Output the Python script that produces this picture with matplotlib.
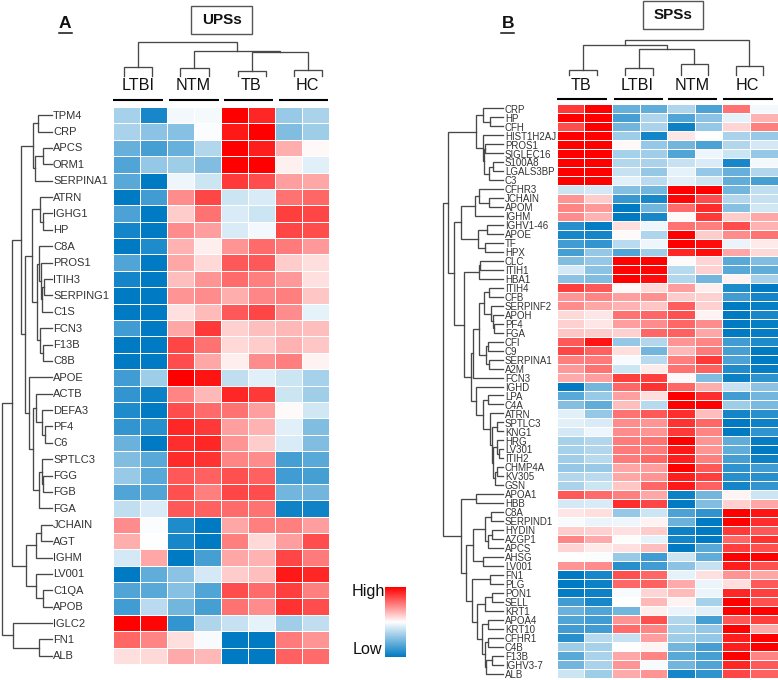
# -*- coding: utf-8 -*-
"""
two clustered heatmaps (UPSs, SPSs) with row and column dendrograms
"""

from matplotlib import pyplot as plt
from matplotlib.colors import LinearSegmentedColormap
from matplotlib.patches import Rectangle
import numpy as np

GROUPS_A = ["LTBI", "NTM", "TB", "HC"]
GROUPS_B = ["TB", "LTBI", "NTM", "HC"]

GENES_A = ["TPM4", "CRP", "APCS", "ORM1", "SERPINA1", "ATRN", "IGHG1", "HP", "C8A", "PROS1",
           "ITIH3", "SERPING1", "C1S", "FCN3", "F13B", "C8B", "APOE", "ACTB", "DEFA3", "PF4",
           "C6", "SPTLC3", "FGG", "FGB", "FGA", "JCHAIN", "AGT", "IGHM", "LV001", "C1QA",
           "APOB", "IGLC2", "FN1", "ALB"]

VALUES_A = [
    [-.35, -.9, -.05, -.04, 1, .85, -.4, -.33],
    [-.33, -.45, -.47, -.02, .9, 1, -.5, -.38],
    [-.6, -.72, -.6, -.3, 1, .88, .32, .03],
    [-.68, -.42, -.38, -.5, 1, 1, .06, -.12],
    [-.65, -1, -.07, -.2, .77, .7, .38, .35],
    [-1, -.75, .45, .72, -.2, -.15, .55, .6],
    [-.7, -1, .2, .55, -.15, -.2, .75, .72],
    [-.92, -1, .45, .38, -.15, -.05, .72, .7],
    [-1, -.88, .3, .07, .42, .58, .52, .4],
    [-.68, -1, .35, .15, .65, .65, .2, .13],
    [-.92, -1, .25, .42, .58, .5, .4, .12],
    [-1, -1, .42, .45, .32, .47, .5, .22],
    [-1, -1, .12, .27, .65, .72, .45, -.1],
    [-.75, -1, .35, .78, .18, .25, .28, .25],
    [-1, -1, .72, .55, .15, .2, .3, .22],
    [-1, -1, .7, .35, .07, .45, .5, .05],
    [-.75, -.38, 1, .92, -.25, -.12, -.2, -.35],
    [-.8, -.95, .48, .28, .85, .78, -.2, -.37],
    [-.88, -1, .7, .58, .55, .38, .02, -.18],
    [-.8, -.85, .85, .78, .38, .3, -.12, -.5],
    [-.58, -1, .82, .85, .42, .2, -.15, -.5],
    [-.5, -.65, .83, .8, .48, .45, -.72, -.65],
    [-.4, -.65, .65, .62, .68, .62, -.75, -.72],
    [-.68, -.68, .68, .5, .72, .7, -.55, -.55],
    [-.25, -.15, .65, .62, .58, .55, -.93, -.93],
    [.45, -.02, -.88, -1, .35, .5, .5, .38],
    [.32, 0, -.9, -1, .5, .15, .38, .7],
    [-.17, .35, -1, -.72, .35, .3, .72, .52],
    [-1, -.62, -.45, -.17, .2, .25, .9, .85],
    [-.68, -.65, -.47, -.68, .7, .58, .75, .5],
    [-.75, -.27, -.55, -.72, .55, .45, .8, .7],
    [1, .97, -.8, -.32, -.22, -.1, -.37, -.25],
    [.6, .48, .13, -.03, -1, -1, .52, .42],
    [.13, .15, .33, .28, -1, -1, .62, .58],
]

GENES_B = ["CRP", "HP", "CFH", "HIST1H2AJ", "PROS1", "SIGLEC16", "S100A8", "LGALS3BP", "C3",
           "CFHR3", "JCHAIN", "APOM", "IGHM", "IGHV1-46", "APOE", "TF", "HPX", "CLC", "ITIH1",
           "HBA1", "ITIH4", "CFB", "SERPINF2", "APOH", "PF4", "FGA", "CFI", "C9", "SERPINA1",
           "A2M", "FCN3", "IGHD", "LPA", "C4A", "ATRN", "SPTLC3", "KNG1", "HRG", "LV301",
           "ITIH2", "CHMP4A", "KV305", "GSN", "APOA1", "HBB", "C8A", "SERPIND1", "HYDIN",
           "AZGP1", "APCS", "AHSG", "LV001", "FN1", "PLG", "PON1", "SELL", "KRT1", "APOA4",
           "KRT10", "CFHR1", "C4B", "F13B", "IGHV3-7", "ALB"]

VALUES_B = [
    [.78, 1, -.6, -.62, -.32, -.7, .55, -.05],
    [1, 1, -.72, -.32, -.68, -.45, -.1, .3],
    [.7, 1, -.55, -.33, -.95, -.42, .17, .5],
    [1, 1, -.38, -.92, .1, 0, -.33, -.4],
    [1, 1, .03, -.42, -.55, -.7, -.3, -.17],
    [1, 1, -.35, -.37, -.68, -.07, -.2, -.42],
    [1, 1, -.3, -.33, -.22, -.15, -.9, -.05],
    [1, 1, -.22, -.42, -.1, -.42, -.6, -.3],
    [1, 1, -.12, -.27, -.12, -.2, -.62, -.72],
    [-.2, -.17, -.48, -.55, 1, 1, -.55, -.25],
    [.42, .2, -.78, -.9, .97, .7, -.3, -.22],
    [.48, .4, -1, -.55, .58, .83, -.47, -.18],
    [.45, .3, -1, -.9, .03, .78, .2, .35],
    [-.85, -.98, .13, -.07, .55, .5, .7, .3],
    [-.9, -.92, .02, -.32, 1, .2, .45, .55],
    [-.75, -.8, -.27, -.07, 1, .95, -.08, .08],
    [-.72, -.42, -.68, -.38, .85, .95, .35, .15],
    [-.5, -.42, 1, 1, .02, .17, -.65, -.5],
    [-.17, -.45, .98, .97, -.28, .18, -.65, -.62],
    [-.45, -.5, 1, .95, -.3, -.55, .05, -.35],
    [.75, .65, .03, .15, .38, .07, -.88, -1],
    [.42, .48, .38, .43, .2, .18, -.75, -.92],
    [.45, .35, .3, .22, .63, .18, -1, -.97],
    [.15, .1, .55, .6, .68, .05, -1, -.9],
    [.18, .1, .38, .45, .6, .45, -1, -.97],
    [.22, .2, .18, .6, .62, .35, -1, -.98],
    [.65, .92, -.42, -.3, .42, .48, -.75, -.88],
    [.72, .62, .13, -.55, .28, .52, -.72, -1],
    [.5, .52, -.03, -.28, .5, .78, -.7, -1],
    [.4, .55, -.2, .08, .55, .62, -.87, -.98],
    [.33, .38, .75, .75, .03, -.5, -.95, -.82],
    [-1, -.55, .6, .8, .6, .32, -.22, -.45],
    [-.65, -.4, .37, .13, 1, .82, -.75, -.55],
    [-.48, -.62, .25, -.28, 1, 1, -.38, -.52],
    [-.12, -.42, .55, .65, .82, .25, -.92, -.85],
    [-.12, -.15, .45, .42, .8, .6, -1, -.95],
    [-.17, -.07, .45, .42, .78, .48, -1, -.82],
    [-.35, -.3, .52, .55, 1, .42, -.62, -.98],
    [-.35, -.3, .52, .52, .9, .42, -.62, -1],
    [-.37, -.28, .52, .6, .88, .5, -.72, -.95],
    [-.42, -.4, .35, .38, 1, .65, -.82, -.75],
    [-.3, -.27, .35, .42, .88, .75, -.85, -.85],
    [-.33, -.2, .22, .6, .9, .62, -.92, -.8],
    [.65, .58, .5, .35, -.95, -.55, .04, -.2],
    [-.17, -.15, .82, .72, -1, -.5, .18, .35],
    [.1, .13, -.42, -.2, -.7, -.82, 1, .92],
    [-.03, -.08, -.07, .05, -.58, -1, 1, .82],
    [.2, .18, .12, .2, -.95, -1, .78, .65],
    [.48, .33, .01, -.1, -.92, -1, .6, .8],
    [.17, .08, .12, .25, -1, -.65, .75, .68],
    [0, -.02, -.4, -.75, -.2, -.62, 1, 1],
    [.42, .45, -.85, -.75, -.45, -.22, .88, .68],
    [-1, -.9, .68, .6, -.1, .12, .42, .35],
    [-1, -.95, .6, .62, .33, -.08, .13, .65],
    [-.98, -.95, -.03, .17, .27, -.08, .85, .75],
    [-.75, -.9, 0, .28, .05, -.35, 1, .68],
    [-.58, -.68, -.55, .07, -.08, -.12, 1, 1],
    [-.68, -.75, .42, .68, -.3, -.72, .65, .75],
    [-.75, -.75, .58, .48, -.35, -.42, 1, .33],
    [-.85, -.28, -.22, .38, -.38, -.42, .88, 1],
    [-.38, -.35, 0, .04, -.55, -.72, .88, 1],
    [-.65, -.33, .35, .48, -.65, -.72, 1, .48],
    [-.55, -.33, .42, -.03, -.55, -.68, .85, .65],
    [-.2, -.38, .33, .42, -.92, -.82, .72, .62],
]

# dendrograms as (height, child, child), a leaf is the row or column number
ROW_TREE_A = (2, (12.5, (21.3, (33, (38, 0, 1), (35.5, (43, 2, 3), 4)),
                         (25, (32, (40, 5, (43.5, 6, 7)),
                               (37.5, (39.3, 8, (40.7, 9, (42.3, (44.3, 10, 11), 12))),
                                (40, 13, (43.5, 14, 15)))),
                          (28.7, 16, (33.3, (36, 17, (41.7, 18, (45, 19, 20))),
                                      (39.3, (42.3, 21, (43, 22, 23)), 24))))),
                  (26, (36, (41.5, 25, 26), 27), (36, 28, (43.5, 29, 30)))),
              (13, 31, (39, 32, 33)))

B_TOP = (476, (482.7, 0, (490, 1, 2)),
         (483.3, 3, (484, (485, 4, 5), (489, (492.7, 6, 7), 8))))
B_MID = (460.7, (475, (479.3, 9, (489, 10, 11)), 12), (478.3, (487.3, 13, 14), (485, 15, 16)))
B_CLC = (479.3, (480, 17, 18), 19)
B_ITIH = (479.3, (484, (489, 20, 21), (490.7, 22, (493.3, 23, (494.3, 24, 25)))),
          (486, (487.7, 26, 27), (489.3, 28, 29)))
B_IGHD = (476, 31, (482.7, (488.3, 32, 33),
                    (490, 34, (491.7, (496.7, 35, 36),
                               (493.3, (497.3, 37, (499.3, 38, 39)),
                                (495, (496.7, 40, 41), 42))))))
B_LOW = (460.7, (476, 43, 44),
         (466, (473.3, (485, (490.7, 45, 46), (487.7, (491.7, 47, 48), 49)), (483.3, 50, 51)),
          (472.3, (490, 52, 53),
           (476.7, (485, (491.7, 54, 55), 56),
            (481.7, (487.7, 57, 58),
             (485, (488.3, 59, 60), (486, (491.7, 61, 62), 63)))))))
ROW_TREE_B = (443.3, (448.3, B_TOP,
                      (454, B_MID, (464, B_CLC, (470.7, (473.3, B_ITIH, 30), B_IGHD)))),
              B_LOW)

COL_TREE_A = (42, (66.7, 0, 1), (50.7, (68, 2, 3), (51.7, (71, 4, 5), (69.5, 6, 7))))
COL_TREE_B = (40, (44.7, (70, 0, 1), (49.3, (67.7, 2, 3), (64.3, 4, 5))), (65.7, 6, 7))
COL_LEAVES_A = [123.7, 152.3, 180, 208.7, 237.7, 265.7, 293.7, 322.3]
COL_LEAVES_B = [569.3, 597.3, 624.7, 652.7, 680.7, 708.3, 735.7, 763.3]

TEXT_COL = '#333333'
TREE_COL = '#484848'

plt.rcParams['font.family'] = ['Liberation Sans', 'DejaVu Sans']

heat = LinearSegmentedColormap.from_list('heat', ['#007bc3', '#ffffff', '#ff0000'])


def row_tree(ax, node, leaf_x, ys):
    """draw a left to right tree, returns position of the node"""
    if isinstance(node, int):
        return leaf_x, ys[node]
    h, a, b = node
    xa, ya = row_tree(ax, a, leaf_x, ys)
    xb, yb = row_tree(ax, b, leaf_x, ys)
    ax.plot([xa, h, h, xb], [ya, ya, yb, yb], color=TREE_COL, lw=0.95, solid_joinstyle='miter')
    return h, (ya + yb) / 2


def col_tree(ax, node, leaf_y, xs):
    """same thing for the tree on top of the columns"""
    if isinstance(node, int):
        return xs[node], leaf_y
    h, a, b = node
    xa, ya = col_tree(ax, a, leaf_y, xs)
    xb, yb = col_tree(ax, b, leaf_y, xs)
    ax.plot([xa, xa, xb, xb], [ya, h, h, yb], color=TREE_COL, lw=0.95, solid_joinstyle='miter')
    return (xa + xb) / 2, h


fig = plt.figure(figsize=(7.78, 6.8), dpi=100)
ax = fig.add_axes([0, 0, 1, 1])
ax.set_xlim(0, 778)
ax.set_ylim(680, 0)
ax.axis('off')


def panel(values, genes, groups, extent, label_x, font, label_dy,
          row, leaf_x, col, col_leaves, leaf_y, bar_y, bars, head_x, head_y):
    x0, x1, y0, y1 = extent
    xe = np.linspace(x0, x1, 9)
    ye = np.linspace(y0, y1, len(genes) + 1)
    ax.pcolormesh(xe, ye, np.array(values), cmap=heat, vmin=-1, vmax=1,
                  edgecolors='white', linewidth=0.7)
    yc = (ye[:-1] + ye[1:]) / 2
    for y, g in zip(yc, genes):
        ax.text(label_x, y + label_dy, g, fontsize=font, color=TEXT_COL, ha='left', va='center')
    row_tree(ax, row, leaf_x, yc)
    col_tree(ax, col, leaf_y, col_leaves)
    for (a, b), hx, g in zip(bars, head_x, groups):
        ax.plot([a, b], [bar_y, bar_y], color='k', lw=1.5, solid_capstyle='butt')
        ax.text(hx, head_y, g, fontsize=11.6, color='#111111', ha='center', va='center')


panel(VALUES_A, GENES_A, GROUPS_A, (112.7, 329.3, 107, 664), 53, 8, 0.5,
      ROW_TREE_A, 52.5, COL_TREE_A, COL_LEAVES_A, 76, 100,
      [(113, 162.7), (169.3, 218.7), (224, 273.3), (279.3, 328.3)],
      [138, 193, 250.7, 307.7], 86)
panel(VALUES_B, GENES_B, GROUPS_B, (556.7, 777.7, 104, 678), 505, 7, 1.2,
      ROW_TREE_B, 503, COL_TREE_B, COL_LEAVES_B, 75, 98.7,
      [(557.3, 606.7), (613.7, 663), (668, 717.3), (723.3, 772.7)],
      [580.7, 637, 692, 747], 85)

# title boxes and panel letters
for box, title in [((191.3, 5.7, 61, 28.3), 'UPSs'), ((643, 0.7, 59.7, 28.6), 'SPSs')]:
    ax.add_patch(Rectangle(box[:2], box[2], box[3], fill=False, edgecolor='#555555', lw=1))
    ax.text(box[0] + box[2] / 2, box[1] + box[3] / 2, title, fontsize=11, fontweight='bold',
            color='#111111', ha='center', va='center')
for x, y, letter in [(65.3, 24, 'A'), (508, 24, 'B')]:
    ax.text(x, y, letter, fontsize=12.5, fontweight='bold', color='#111111', ha='center', va='center')
    ax.plot([x - 6.5, x + 6.5], [32.5, 32.5], color='#111111', lw=1.1)

# colour key
grad = np.linspace(1, -1, 128).reshape(-1, 1)
ax.imshow(grad, cmap=heat, vmin=-1, vmax=1, extent=(385, 406, 656.7, 587.3), aspect='auto')
ax.set_xlim(0, 778)
ax.set_ylim(680, 0)
ax.text(351.5, 591.5, 'High', fontsize=11.6, color='#111111', ha='left', va='center')
ax.text(353, 650, 'Low', fontsize=11.6, color='#111111', ha='left', va='center')

fig.savefig('out.png', dpi=100)
